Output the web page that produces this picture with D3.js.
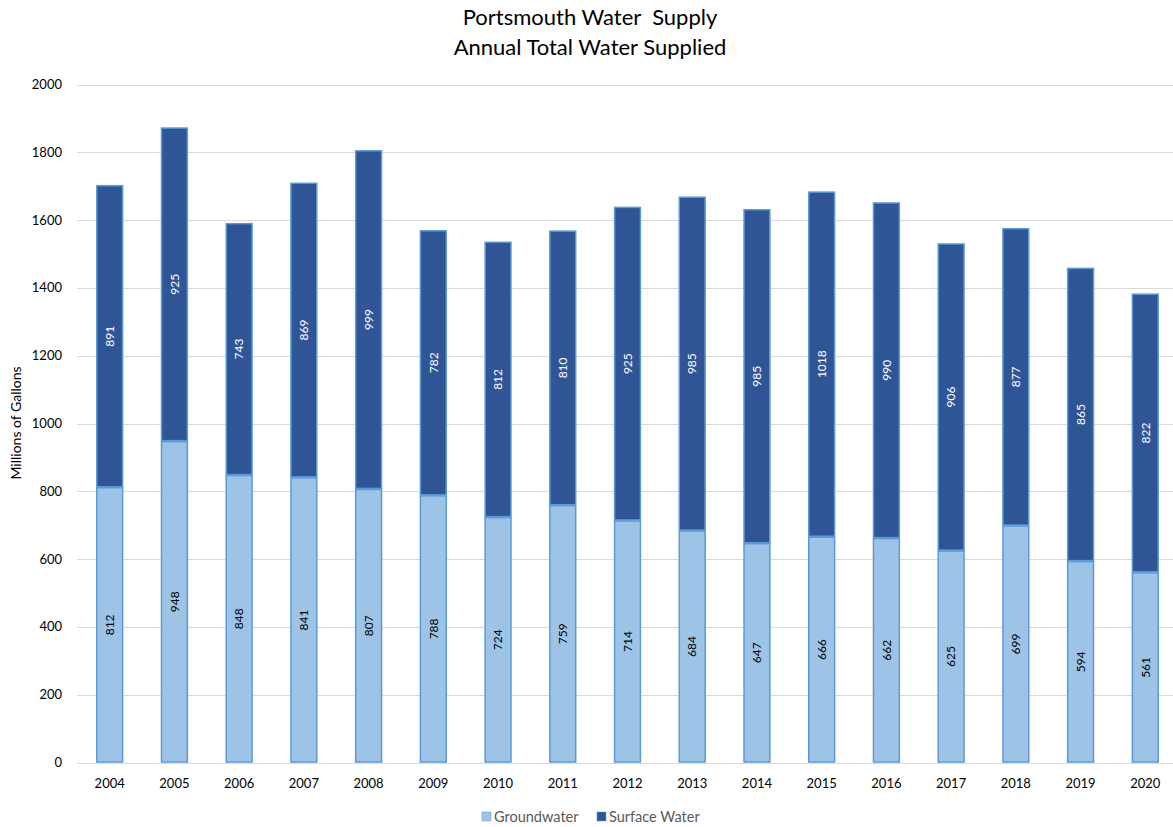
<!DOCTYPE html>
<html>
<head>
<meta charset="utf-8">
<script src="https://cdn.jsdelivr.net/npm/d3@7"></script>
<style>
  body { margin: 0; background: #fff; }
  svg { font-family: "Lato", "Open Sans", sans-serif; }
</style>
</head>
<body>
<svg></svg>
<script>
var years = ["2004","2005","2006","2007","2008","2009","2010","2011","2012","2013","2014","2015","2016","2017","2018","2019","2020"];
var groundwater = [812,948,848,841,807,788,724,759,714,684,647,666,662,625,699,594,561];
var surfaceWater = [891,925,743,869,999,782,812,810,925,985,985,1018,990,906,877,865,822];
var yTicks = [0,200,400,600,800,1000,1200,1400,1600,1800,2000];
var seriesNames = ["Groundwater","Surface Water"];
var colors = ["#9dc3e6","#2f5597"];

var width = 1173;
var height = 827;
var svg = d3.select("svg")
            .attr("width",width)
            .attr("height",height);

var rows = years.map(function(y,i)
{
  return {year: y, Groundwater: groundwater[i], "Surface Water": surfaceWater[i]};
});
var stacked = d3.stack().keys(seriesNames)(rows);

var x = d3.scaleBand()
          .domain(years)
          .range([77.5, 1177.5])
          .paddingInner(0.585)
          .paddingOuter(0.29);
var y = d3.scaleLinear()
          .domain([0,2000])
          .range([762.5, 84.5]);

// gridlines
svg.selectAll("line.grid")
   .data(yTicks)
   .enter()
   .append("line")
   .attr("class","grid")
   .attr("x1",77)
   .attr("x2",width)
   .attr("y1",function(d){ return Math.round(y(d)) + 0.5; })
   .attr("y2",function(d){ return Math.round(y(d)) + 0.5; })
   .attr("stroke","#d9d9d9")
   .attr("stroke-width",1);

// y tick labels
svg.selectAll("text.ytick")
   .data(yTicks)
   .enter()
   .append("text")
   .attr("class","ytick")
   .attr("x",62)
   .attr("y",function(d){ return y(d); })
   .attr("dy","0.35em")
   .attr("text-anchor","end")
   .attr("font-size",13)
   .attr("fill","#000")
   .text(function(d){ return d; });

// x labels
svg.selectAll("text.xtick")
   .data(years)
   .enter()
   .append("text")
   .attr("class","xtick")
   .attr("x",function(d){ return x(d) + x.bandwidth()/2; })
   .attr("y",788)
   .attr("text-anchor","middle")
   .attr("font-size",13)
   .attr("fill","#000")
   .text(function(d){ return d; });

// bars
var layers = svg.selectAll("g.layer")
   .data(stacked)
   .enter()
   .append("g")
   .attr("class","layer")
   .attr("fill",function(d,i){ return colors[i]; });

layers.selectAll("rect")
   .data(function(d){ return d; })
   .enter()
   .append("rect")
   .attr("x",function(d){ return x(d.data.year) + 0.5; })
   .attr("y",function(d){ return y(d[1]) + 0.5; })
   .attr("width",x.bandwidth() - 1)
   .attr("height",function(d){ return y(d[0]) - y(d[1]) - 1; })
   .attr("stroke","#5b9bd5")
   .attr("stroke-width",1.5);

// value labels
layers.each(function(layer,li)
{
  d3.select(this).selectAll("text")
    .data(layer)
    .enter()
    .append("text")
    .attr("transform",function(d)
    {
      var cx = x(d.data.year) + x.bandwidth()/2;
      var cy = (y(d[0]) + y(d[1]))/2;
      return "translate(" + cx + "," + cy + ") rotate(-90)";
    })
    .attr("text-anchor","middle")
    .attr("dy","0.35em")
    .attr("font-size",12)
    .attr("fill",li === 0 ? "#000" : "#fff")
    .text(function(d){ return d[1] - d[0]; });
});

// title
svg.append("text")
   .attr("x",590)
   .attr("y",25)
   .attr("text-anchor","middle")
   .attr("font-size",22)
   .attr("fill","#000")
   .attr("xml:space","preserve")
   .text("Portsmouth Water  Supply");
svg.append("text")
   .attr("x",590)
   .attr("y",55)
   .attr("text-anchor","middle")
   .attr("font-size",22)
   .attr("fill","#000")
   .text("Annual Total Water Supplied");

// y axis title
svg.append("text")
   .attr("transform","translate(21,423) rotate(-90)")
   .attr("text-anchor","middle")
   .attr("font-size",14)
   .attr("fill","#000")
   .text("Millions of Gallons");

// legend
var legendX = [482, 597];
var legend = svg.selectAll("g.legend")
   .data(seriesNames)
   .enter()
   .append("g")
   .attr("class","legend")
   .attr("transform",function(d,i){ return "translate(" + legendX[i] + ",812)"; });
legend.append("rect")
   .attr("width",9)
   .attr("height",9)
   .attr("fill",function(d,i){ return colors[i]; })
   .attr("stroke","#5b9bd5")
   .attr("stroke-width",0.5);
legend.append("text")
   .attr("x",12)
   .attr("y",5)
   .attr("dy","0.35em")
   .attr("font-size",14.5)
   .attr("fill","#595959")
   .text(function(d){ return d; });
</script>
</body>
</html>
